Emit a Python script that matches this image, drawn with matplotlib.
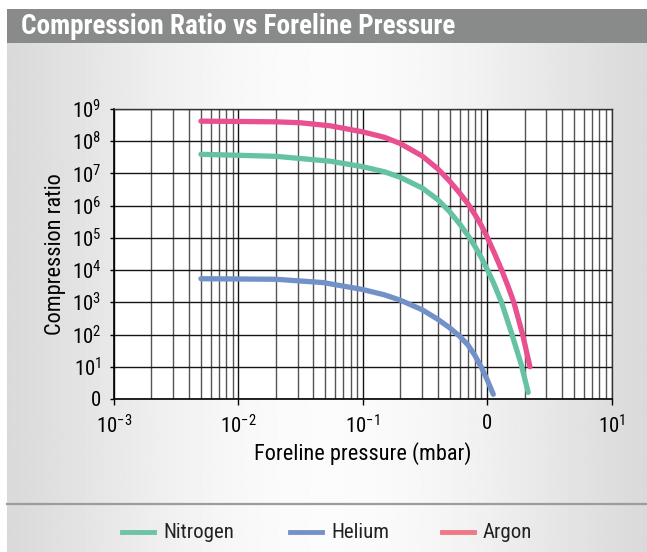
import matplotlib.pyplot as plt
import matplotlib.font_manager as fm
import numpy as np
from matplotlib.lines import Line2D
from matplotlib.patches import Rectangle

# pick a condensed sans face if one is installed
names = {f.name for f in fm.fontManager.ttflist}
family, stretch = 'Liberation Sans', 'normal'
for cand in ['Liberation Sans Narrow', 'Roboto Condensed', 'Open Sans Condensed', 'Arial Narrow']:
    if cand in names:
        family = cand
        break
else:
    for pref in ['Roboto', 'Noto Sans', 'Open Sans', 'DejaVu Sans', 'Lato', 'Inter']:
        hits = [f for f in fm.fontManager.ttflist
                if f.name == pref and ('ondensed' in f.fname or 'arrow' in f.fname)]
        if hits:
            family, stretch = pref, 'condensed'
            break

plt.rcParams['font.family'] = [family, 'DejaVu Sans']
plt.rcParams['font.stretch'] = stretch
plt.rcParams['mathtext.fontset'] = 'custom'
plt.rcParams['mathtext.rm'] = f'{family}:stretch={stretch}'
plt.rcParams['mathtext.it'] = f'{family}:stretch={stretch}'
plt.rcParams['mathtext.bf'] = f'{family}:weight=bold:stretch={stretch}'

# data (pressure in mbar, compression ratio)
argon_p = [0.005, 0.02, 0.031, 0.055, 0.1, 0.15, 0.2, 0.3, 0.4, 0.5, 0.6, 0.7, 0.8, 0.9, 1.0,
           1.15, 1.31, 1.47, 1.64, 1.93, 2.21]
argon_r = [4.2e8, 4.0e8, 3.76e8, 3.0e8, 1.95e8, 1.32e8, 8.5e7, 3.5e7, 1.4e7, 5.75e6, 2.5e6, 1.15e6,
           5.2e5, 2.4e5, 1.07e5, 3.2e4, 1e4, 3.2e3, 1e3, 100, 10]

nitrogen_p = [0.005, 0.02, 0.0546, 0.1, 0.15, 0.2, 0.3, 0.4, 0.5, 0.6, 0.7, 0.8, 0.9, 1.0, 1.12,
              1.3, 1.57, 1.87, 2.14]
nitrogen_r = [3.93e7, 3.4e7, 2.4e7, 1.62e7, 1.12e7, 7.6e6, 3.55e6, 1.55e6, 6.5e5, 2.75e5, 1.2e5,
              5.4e4, 2.4e4, 1.07e4, 4.2e3, 1.05e3, 112, 12.6, 1.6]

helium_p = [0.005, 0.02, 0.048, 0.1, 0.15, 0.2, 0.3, 0.4, 0.5, 0.6, 0.7, 0.8, 0.9, 1.0, 1.12]
helium_r = [5.4e3, 5.2e3, 4.1e3, 2.5e3, 1.7e3, 1.17e3, 590, 300, 162, 89, 48, 22, 9.5, 4.0, 1.4]

x_ticks = [1e-3, 1e-2, 1e-1, 1e0, 1e1]
x_labels = [r'$10^{-3}$', r'$10^{-2}$', r'$10^{-1}$', '0', r'$10^{1}$']
y_ticks = [10.0 ** k for k in range(10)]
y_labels = ['0'] + [r'$10^{%d}$' % k for k in range(1, 10)]

legend_labels = ['Nitrogen', 'Helium', 'Argon']
legend_colors = ['#6cc3a5', '#7592c8', '#ef7886']

W, H = 647, 552
fig = plt.figure(figsize=(W / 100, H / 100), dpi=100)
fig.patch.set_facecolor('white')

# gradient panel background
bg = fig.add_axes([7 / W, 0, 1 - 7 / W, 1 - 9 / H], zorder=-10)
t = np.linspace(0, 1, 400)
shade = 0.855 + 0.13 * np.sin(np.pi * t) ** 1.2
bg.imshow(np.tile(shade, (2, 1)), cmap='gray', vmin=0, vmax=1, aspect='auto', extent=[0, 1, 0, 1])
bg.axis('off')

# title bar
fig.patches.append(Rectangle((7 / W, 1 - 43 / H), 1 - 7 / W, 34 / H, transform=fig.transFigure,
                             facecolor='#898b8b', edgecolor='none', zorder=-5))
fig.text(21 / W, 1 - 27 / H, 'Compression Ratio vs Foreline Pressure', color='white',
         fontsize=19.5, fontweight='bold', va='center', ha='left')

# separator line
fig.lines.append(Line2D([7 / W, 1], [1 - 504 / H, 1 - 504 / H], transform=fig.transFigure,
                        color='#9c9c9c', lw=1.6))

ax = fig.add_axes([114 / W, 1 - 399 / H, 497.5 / W, 290 / H])
ax.set_facecolor('white')
ax.set_xscale('log')
ax.set_yscale('log')
ax.set_xlim(1e-3, 1e1)
ax.set_ylim(1, 1e9)

kw = dict(lw=3.8, solid_capstyle='round', solid_joinstyle='round', zorder=3)
ax.plot(nitrogen_p, nitrogen_r, color='#66c2a4', **kw)
ax.plot(helium_p, helium_r, color='#7391c9', **kw)
ax.plot(argon_p, argon_r, color='#e8508f', **kw)

ax.set_xticks(x_ticks)
ax.set_xticklabels(x_labels)
ax.set_yticks(y_ticks)
ax.set_yticklabels(y_labels)
ax.yaxis.set_minor_locator(plt.NullLocator())
ax.tick_params(axis='x', which='major', length=4, width=1, pad=7, labelsize=15, color='black')
ax.tick_params(axis='x', which='minor', length=0)
ax.tick_params(axis='y', which='major', length=3, width=1, pad=6, labelsize=15, color='black')

ax.grid(True, which='major', axis='both', color='#151515', lw=1.0)
ax.grid(True, which='minor', axis='x', color='#555555', lw=1.0)
ax.set_axisbelow(True)
for s in ['left', 'bottom']:
    ax.spines[s].set_color('black')
    ax.spines[s].set_linewidth(1.2)
for s in ['top', 'right']:
    ax.spines[s].set_color('#333333')
    ax.spines[s].set_linewidth(1.0)

ax.set_xlabel('Foreline pressure (mbar)', fontsize=16)
ax.xaxis.set_label_coords(0.5, -(454 - 399) / 290)
ax.set_ylabel('Compression ratio', fontsize=16)
ax.yaxis.set_label_coords((55 - 114) / 497.5, 0.5)
ax.xaxis.label.set_va('center')
ax.yaxis.label.set_va('center')

# legend drawn in figure pixels
line_x = [122, 290, 442]
ly = 1 - 532 / H
for lab, col, x0 in zip(legend_labels, legend_colors, line_x):
    fig.lines.append(Line2D([x0 / W, (x0 + 32) / W], [ly, ly], transform=fig.transFigure,
                            color=col, lw=3.5))
    fig.text((x0 + 41) / W, ly, lab, fontsize=15, va='center', ha='left', color='#222222')

fig.savefig('out.png', dpi=100)
